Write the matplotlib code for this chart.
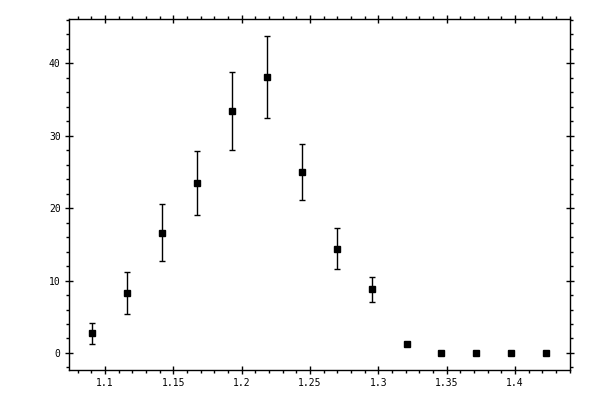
import matplotlib
matplotlib.use("Agg")
import matplotlib.pyplot as plt
from matplotlib.ticker import MultipleLocator, FuncFormatter

# data
x_vals = [1.0907, 1.1163, 1.1418, 1.1674, 1.1929, 1.2185, 1.2440,
          1.2696, 1.2951, 1.3207, 1.3462, 1.3718, 1.3973, 1.4229]
y_vals = [2.75, 8.25, 16.6, 23.5, 33.4, 38.1, 25.0,
          14.4, 8.8, 1.24, 0.0, 0.0, 0.0, 0.0]
y_err = [1.45, 2.9, 3.9, 4.4, 5.4, 5.7, 3.9,
         2.8, 1.7, 0.3, 0.0, 0.0, 0.0, 0.0]

fig = plt.figure(figsize=(6, 4), dpi=100)
ax = fig.add_axes([0.115, 0.075, 0.835, 0.8775])

ax.errorbar(x_vals, y_vals, yerr=y_err, fmt="s", color="black",
            markersize=5, elinewidth=1.0, capsize=2.5, capthick=1.0,
            ecolor="black")

ax.set_xlim(1.0736, 1.4403)
ax.set_ylim(-2.35, 46.1)

ax.xaxis.set_major_locator(MultipleLocator(0.05))
ax.xaxis.set_minor_locator(MultipleLocator(0.01))
ax.yaxis.set_major_locator(MultipleLocator(10))
ax.yaxis.set_minor_locator(MultipleLocator(2))
ax.xaxis.set_major_formatter(FuncFormatter(lambda v, p: f"{v:g}"))
ax.yaxis.set_major_formatter(FuncFormatter(lambda v, p: f"{v:g}"))

for s in ax.spines.values():
    s.set_linewidth(1.0)

ax.tick_params(which="major", direction="inout", length=6, width=1.0,
               top=True, right=True, labelsize=7, pad=3)
ax.tick_params(which="minor", direction="out", length=2.5, width=1.0,
               top=True, right=True)
for lab in ax.get_xticklabels() + ax.get_yticklabels():
    lab.set_family("DejaVu Sans Mono")

fig.savefig("out.png", dpi=100)
